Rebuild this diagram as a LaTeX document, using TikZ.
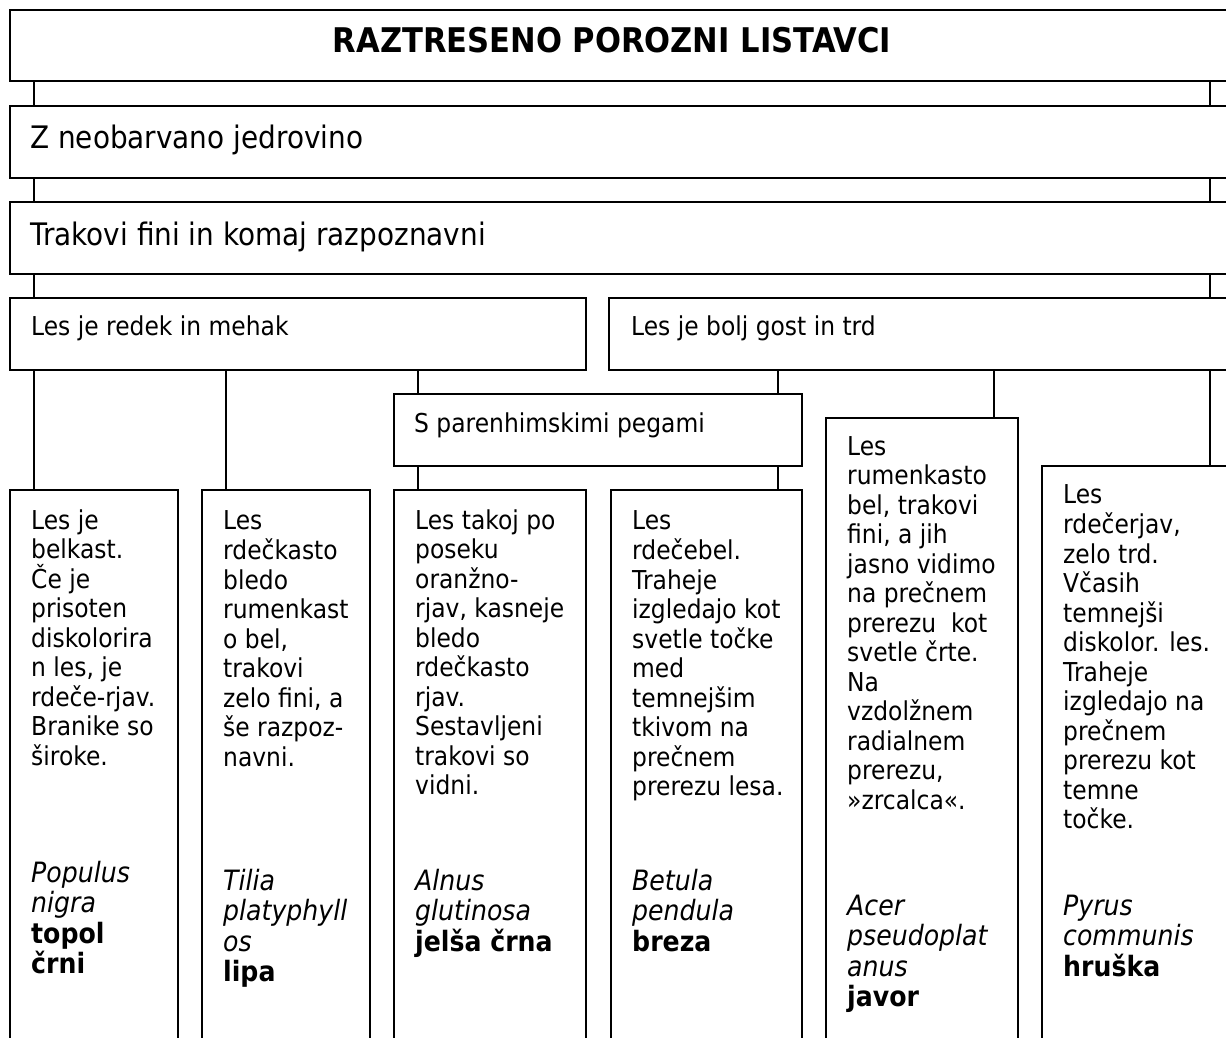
\documentclass[tikz,border=0pt]{standalone}
\usepackage{fontspec}
\setmainfont{DejaVu Sans}[FakeStretch=0.9]
\begin{document}
\begin{tikzpicture}[x=1pt,y=-1pt,
  box/.style={draw, line width=1.3pt, inner sep=0pt, outer sep=0pt, anchor=north west},
  conn/.style={line width=1.3pt},
  desc/.style={anchor=north west, inner sep=0pt, align=left, font=\fontsize{26}{29.5}\selectfont},
  spec/.style={anchor=north west, inner sep=0pt, align=left, font=\fontsize{28}{30.5}\selectfont},
  head/.style={anchor=base west, inner sep=0pt, font=\fontsize{31}{36}\selectfont},
  subhead/.style={anchor=base west, inner sep=0pt, font=\fontsize{26}{31}\selectfont}]
\clip (0,0) rectangle (1226,1037);
\fill[white] (0,0) rectangle (1226,1037);
% x positions of connectors
\coordinate (xa) at (34,0);
\coordinate (xb) at (226,0);
\coordinate (xc) at (418,0);
\coordinate (xd) at (778,0);
\coordinate (xe) at (994,0);
\coordinate (xf) at (1210,0);
% boxes
\node[box, minimum width=1230pt, minimum height=71pt] (title) at (10,10) {};
\node[box, minimum width=1230pt, minimum height=72pt] (zb) at (10,106) {};
\node[box, minimum width=1230pt, minimum height=72pt] (tb) at (10,202) {};
\node[box, minimum width=576pt, minimum height=72pt] (r1) at (10,298) {};
\node[box, minimum width=631pt, minimum height=72pt] (r2) at (609,298) {};
\node[box, minimum width=408pt, minimum height=72pt] (sp) at (394,394) {};
\node[box, minimum width=168pt, minimum height=600pt] (b1) at (10,490) {};
\node[box, minimum width=168pt, minimum height=600pt] (b2) at (202,490) {};
\node[box, minimum width=192pt, minimum height=600pt] (b3) at (394,490) {};
\node[box, minimum width=191pt, minimum height=600pt] (b4) at (611,490) {};
\node[box, minimum width=192pt, minimum height=650pt] (b5) at (826,418) {};
\node[box, minimum width=200pt, minimum height=650pt] (b6) at (1042,466) {};
% connectors
\newcommand\myconn[3]{\draw[conn] (#1.south -| #3) -- (#2.north -| #3);}
\myconn{title}{zb}{xa}
\myconn{title}{zb}{xf}
\myconn{zb}{tb}{xa}
\myconn{zb}{tb}{xf}
\myconn{tb}{r1}{xa}
\myconn{tb}{r2}{xf}
\myconn{r1}{b1}{xa}
\myconn{r1}{b2}{xb}
\myconn{r1}{sp}{xc}
\myconn{sp}{b3}{xc}
\myconn{r2}{sp}{xd}
\myconn{sp}{b4}{xd}
\myconn{r2}{b5}{xe}
\myconn{r2}{b6}{xf}
% headings
\node[anchor=base, inner sep=0pt, font=\fontsize{34}{38}\selectfont\bfseries] (ttitle) at (612,52) {RAZTRESENO POROZNI LISTAVCI};
\node[head] (tzb) at (30,148) {Z neobarvano jedrovino};
\node[head] (ttb) at (30,245) {Trakovi fini in komaj razpoznavni};
\node[subhead] (tr1) at (31,335) {Les je redek in mehak};
\node[subhead] (tr2) at (631,335) {Les je bolj gost in trd};
\node[subhead] (tsp) at (414,432) {S parenhimskimi pegami};
% descriptions
\node[desc] (d1) at (31,508.35) {\strut Les je\\belkast.\\Če je\\prisoten\\diskolorira\\n les, je\\rdeče-rjav.\\Branike so\\široke.};
\node[desc] (d2) at (223,508.35) {\strut Les\\rdečkasto\\bledo\\rumenkast\\o bel,\\trakovi\\zelo fini, a\\še razpoz-\\navni.};
\node[desc] (d3) at (415,508.35) {\strut Les takoj po\\poseku\\oranžno-\\rjav, kasneje\\bledo\\rdečkasto\\rjav.\\Sestavljeni\\trakovi so\\vidni.};
\node[desc] (d4) at (632,508.35) {\strut Les\\rdečebel.\\Traheje\\izgledajo kot\\svetle točke\\med\\temnejšim\\tkivom na\\prečnem\\prerezu lesa.};
\node[desc] (d5) at (847,434.35) {\strut Les\\rumenkasto\\bel, trakovi\\fini, a jih\\jasno vidimo\\na prečnem\\prerezu\ \ kot\\svetle črte.\\Na\\vzdolžnem\\radialnem\\prerezu,\\»zrcalca«.};
\node[desc] (d6) at (1063,482.35) {\strut Les\\rdečerjav,\\zelo trd.\\Včasih\\temnejši\\diskolor. les.\\Traheje\\izgledajo na\\prečnem\\prerezu kot\\temne\\točke.};
% species
\node[spec] (s1) at (31,860.65) {\strut{\itshape Populus}\\{\itshape nigra}\\{\bfseries topol}\\{\bfseries črni}};
\node[spec] (s2) at (223,868.65) {\strut{\itshape Tilia}\\{\itshape platyphyll}\\{\itshape os}\\{\bfseries lipa}};
\node[spec] (s3) at (415,868.65) {\strut{\itshape Alnus}\\{\itshape glutinosa}\\{\bfseries jelša črna}};
\node[spec] (s4) at (632,868.65) {\strut{\itshape Betula}\\{\itshape pendula}\\{\bfseries breza}};
\node[spec] (s5) at (847,893.65) {\strut{\itshape Acer}\\{\itshape pseudoplat}\\{\itshape anus}\\{\bfseries javor}};
\node[spec] (s6) at (1063,893.65) {\strut{\itshape Pyrus}\\{\itshape communis}\\{\bfseries hruška}};
\end{tikzpicture}
\end{document}
